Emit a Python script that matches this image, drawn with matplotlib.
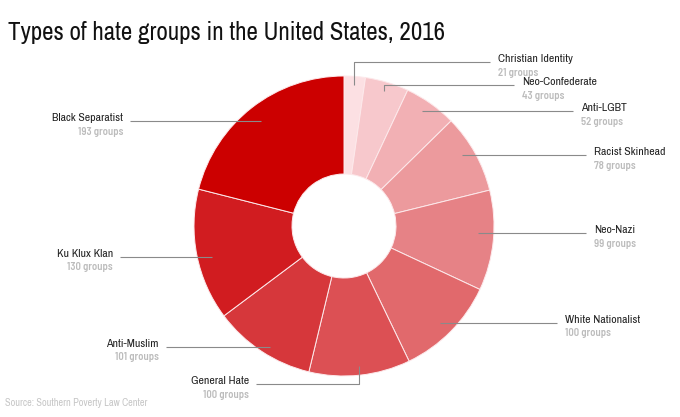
import numpy as np
import matplotlib.pyplot as plt

# Datos del gráfico (sentido horario desde arriba)
categorias = ["Christian Identity", "Neo-Confederate", "Anti-LGBT", "Racist Skinhead",
              "Neo-Nazi", "White Nationalist", "General Hate", "Anti-Muslim",
              "Ku Klux Klan", "Black Separatist"]
grupos = [21, 43, 52, 78, 99, 100, 100, 101, 130, 193]

colores = ["#fce0e3", "#f7c8cc", "#f2b0b4", "#ec9a9d", "#e68286",
           "#e1696c", "#dc5054", "#d6373b", "#d11c20", "#cc0000"]

W, H = 680, 417
cx, cy = 344, H - 226
R = 150

fig = plt.figure(figsize=(W / 100, H / 100), dpi=100)
ax = fig.add_axes([0, 0, 1, 1])

wedges, _ = ax.pie(grupos, colors=colores, startangle=90, counterclock=False,
                   center=(cx, cy), radius=R, frame=True,
                   wedgeprops=dict(width=R - 52, edgecolor="#fde9eb", linewidth=0.7))
ax.set_xlim(0, W)
ax.set_ylim(0, H)
ax.axis("off")

fuente = ["Archivo Narrow", "DejaVu Sans"]
fuente_n = ["Barlow Semi Condensed", "Archivo Narrow", "DejaVu Sans"]

# Posición de las etiquetas en píxeles: (x del texto, alineación, y, codo vertical)
etiquetas = {
    "Christian Identity": (498, "left", 62, True),
    "Neo-Confederate": (522, "left", 85, True),
    "Anti-LGBT": (581, "left", 111, False),
    "Racist Skinhead": (594, "left", 155, False),
    "Neo-Nazi": (594, "left", 233, False),
    "White Nationalist": (565, "left", 323, False),
    "General Hate": (249, "right", 384, True),
    "Anti-Muslim": (159, "right", 347, False),
    "Ku Klux Klan": (113, "right", 257, False),
    "Black Separatist": (123, "right", 121, False),
}

for w, nombre, n in zip(wedges, categorias, grupos):
    ang = np.deg2rad((w.theta1 + w.theta2) / 2)
    tx, ha, ty, codo = etiquetas[nombre]
    ty = H - ty
    r = 0.94 * R if codo else 0.9 * R
    px = cx + r * np.cos(ang)
    py = cy + r * np.sin(ang) if codo else ty
    fin = tx - 8 if ha == "left" else tx + 7
    ax.plot([px, px, fin], [py, ty, ty], color="#8a8a8a", lw=0.8,
            solid_capstyle="butt")
    ax.text(tx, ty + 3, nombre, ha=ha, va="center", fontsize=8.5,
            color="#222222", family=fuente)
    ax.text(tx, ty - 10.5, f"{n} groups", ha=ha, va="center", fontsize=7.7,
            color="#bcbcbc", fontweight=600, family=fuente_n)

fig.text(8 / W, 1 - 32 / H, "Types of hate groups in the United States, 2016",
         fontsize=18, color="#111111", va="center", ha="left", family=fuente)
fig.text(5 / W, 1 - 403 / H, "Source: Southern Poverty Law Center",
         fontsize=7.4, color="#c6c6c6", va="center", ha="left", family=fuente)

fig.savefig("out.png", dpi=100, facecolor="white")
